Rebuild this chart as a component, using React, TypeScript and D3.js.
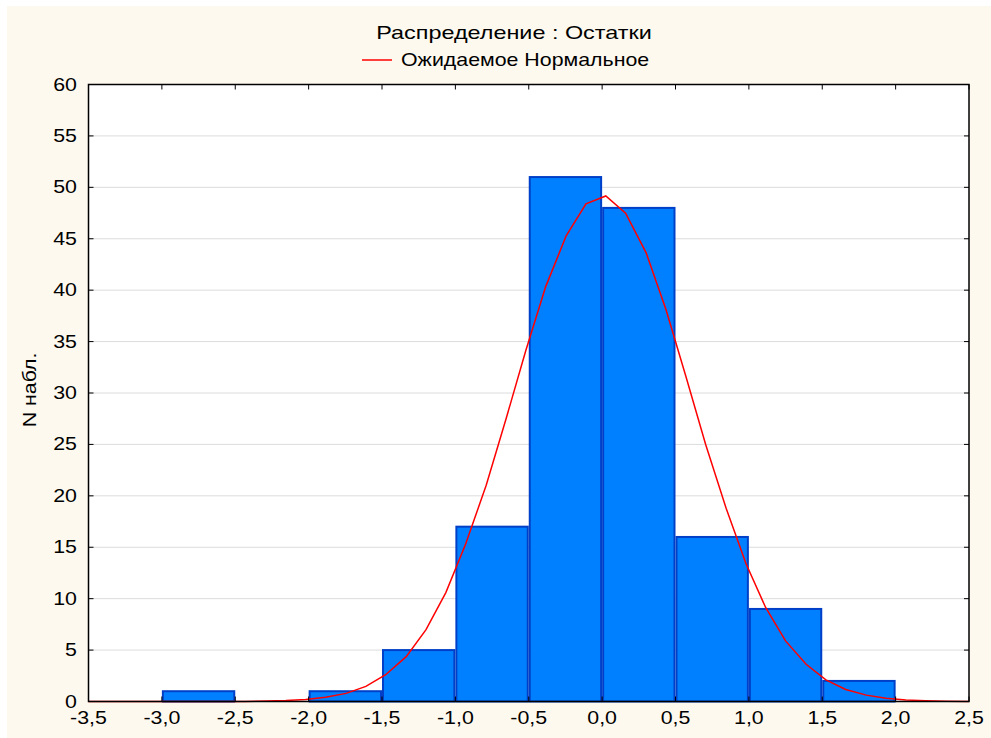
import React from "react";
import * as d3 from "d3";

const binStarts = [-3.0, -2.5, -2.0, -1.5, -1.0, -0.5, 0.0, 0.5, 1.0, 1.5];
const binCounts = [1, 0, 1, 5, 17, 51, 48, 16, 9, 2];
const binWidth = 0.5;

const curveX = [
  -3.5, -3.38, -3.245, -3.11, -2.975, -2.84, -2.7, -2.565, -2.43, -2.29,
  -2.155, -2.02, -1.885, -1.745, -1.61, -1.475, -1.335, -1.2, -1.065, -0.93,
  -0.79, -0.655, -0.52, -0.385, -0.245, -0.11, 0.025, 0.16, 0.3, 0.435,
  0.57, 0.705, 0.845, 0.98, 1.115, 1.25, 1.39, 1.525, 1.66, 1.8,
  1.935, 2.07, 2.205, 2.345, 2.5,
];
const curveY = [
  0, 0, 0, 0, 0, 0, 0, 0, 0.01, 0.04,
  0.09, 0.2, 0.41, 0.79, 1.47, 2.6, 4.36, 6.98, 10.59, 15.31,
  21.03, 27.47, 34.13, 40.32, 45.29, 48.39, 49.16, 47.49, 43.63, 38.11,
  31.66, 25.01, 18.79, 13.42, 9.12, 5.89, 3.62, 2.11, 1.17, 0.62,
  0.31, 0.15, 0.07, 0.03, 0.01,
];

const xTicks = [-3.5, -3.0, -2.5, -2.0, -1.5, -1.0, -0.5, 0.0, 0.5, 1.0, 1.5, 2.0, 2.5];
const yTicks = [0, 5, 10, 15, 20, 25, 30, 35, 40, 45, 50, 55, 60];

const title = "Распределение : Остатки";
const legendLabel = "Ожидаемое Нормальное";
const yLabel = "N набл.";

const W = 991;
const H = 738;
const L = 88.5;
const R = 969;
const T = 84.5;
const B = 701.5;
const FONT = "'Liberation Sans', Arial, sans-serif";
const SX = 1.22;

function SText({ x, y, anchor, size, sx, children }: any) {
  return (
    <text
      transform={`translate(${x},${y}) scale(${sx ?? SX},1)`}
      textAnchor={anchor}
      fontSize={size}
      fontFamily={FONT}
      fill="#000"
    >
      {children}
    </text>
  );
}

export default function App() {
  const x = d3.scaleLinear().domain([-3.5, 2.5]).range([L, R]);
  const y = d3.scaleLinear().domain([0, 60]).range([B, T]);
  const fmt = (v: number) => v.toFixed(1).replace(".", ",");
  const line = d3
    .line<number>()
    .x((_, i) => x(curveX[i]))
    .y((d) => y(d));

  return (
    <svg
      width={W}
      height={H}
      style={{ position: "absolute", left: 0, top: 0, display: "block" }}
    >
      <rect x={0} y={0} width={W} height={H} fill="#ffffff" />
      <rect x={7} y={6} width={W - 7} height={H - 6} fill="#FDF9EF" />
      <rect x={L} y={T} width={R - L} height={B - T} fill="#ffffff" />
      {yTicks.map((t) => (
        <line key={"g" + t} x1={L} x2={R} y1={y(t)} y2={y(t)} stroke="#DCDCDC" strokeWidth={1} />
      ))}
      {binStarts.map((s, i) =>
        binCounts[i] > 0 ? (
          <rect
            key={"b" + i}
            x={x(s) + 1}
            y={y(binCounts[i])}
            width={x(s + binWidth) - x(s) - 2}
            height={B - y(binCounts[i])}
            fill="#0080FF"
            stroke="#0040C8"
            strokeWidth={2}
          />
        ) : null
      )}
      <path d={line(curveY) || ""} fill="none" stroke="#FF0000" strokeWidth={1.5} />
      <rect x={L} y={T} width={R - L} height={B - T} fill="none" stroke="#000" strokeWidth={1.5} />
      {xTicks.map((t) => (
        <g key={"xt" + t}>
          <line x1={x(t)} x2={x(t)} y1={B} y2={B - 5} stroke="#000" />
          <line x1={x(t)} x2={x(t)} y1={T} y2={T + 5} stroke="#000" />
          <SText x={x(t)} y={724} anchor="middle" size={17.5}>
            {fmt(t)}
          </SText>
        </g>
      ))}
      {yTicks.map((t) => (
        <g key={"yt" + t}>
          <line x1={L} x2={L + 5} y1={y(t)} y2={y(t)} stroke="#000" />
          <line x1={R} x2={R - 5} y1={y(t)} y2={y(t)} stroke="#000" />
          <SText x={77} y={y(t) + 6} anchor="end" size={17.5}>
            {String(t)}
          </SText>
        </g>
      ))}
      <SText x={514} y={39} anchor="middle" size={18} sx={1.3}>
        {title}
      </SText>
      <line x1={362} x2={392} y1={60} y2={60} stroke="#FF0000" strokeWidth={1.5} />
      <SText x={401} y={66} anchor="start" size={17.5}>
        {legendLabel}
      </SText>
      <text
        transform={`translate(36,390) rotate(-90) scale(${SX},1)`}
        textAnchor="middle"
        fontSize={17.5}
        fontFamily={FONT}
        fill="#000"
      >
        {yLabel}
      </text>
    </svg>
  );
}
